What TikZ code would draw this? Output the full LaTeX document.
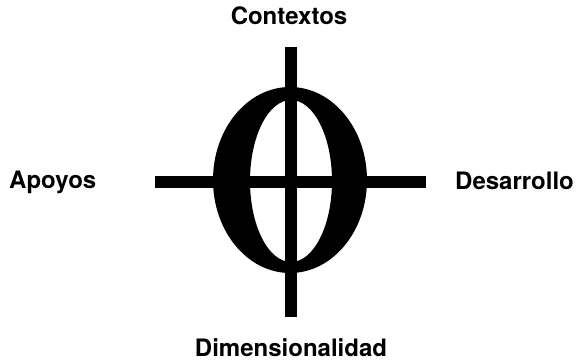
\documentclass[tikz,border=0pt]{standalone}
\usepackage{fontspec}
\setmainfont{TeX Gyre Heros}
\begin{document}
\begin{tikzpicture}[
    x=1pt, y=-1pt,
    font=\fontsize{24}{28}\selectfont\bfseries,
    lbl/.style={inner sep=0pt},
    axis/.style={line width=11.5pt, line cap=butt},
    glyph/.style={fill=black, even odd rule}
]
\useasboundingbox (0,0) rectangle (576,361);

% Central figure
\fill[glyph] (290,180) ellipse [x radius=77, y radius=93]
             (291,181) ellipse [x radius=41, y radius=81];

% Axes
\coordinate (left)   at (155,182);
\coordinate (right)  at (426,182);
\coordinate (top)    at (291,47);
\coordinate (bottom) at (291,317);
\draw[axis] (left) -- (right);
\draw[axis] (top) -- (bottom);

% Labels
\node[lbl, anchor=base]      (ctx) at (289,25)  {Contextos};
\node[lbl, anchor=base west] (apo) at (9,188)   {Apoyos};
\node[lbl, anchor=base west] (des) at (455,189) {Desarrollo};
\node[lbl, anchor=base]      (dim) at (291,356) {Dimensionalidad};

\end{tikzpicture}
\end{document}
